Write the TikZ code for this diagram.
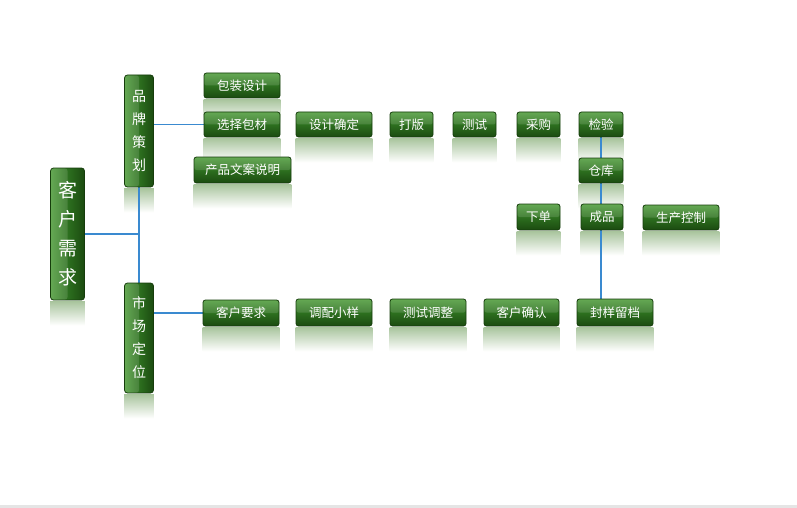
\documentclass[tikz,border=0pt]{standalone}
\usepackage{fontspec}
\newfontfamily\cjk{Noto Sans CJK SC}
\usetikzlibrary{backgrounds}
\definecolor{gtop}{HTML}{4E9C3A}
\definecolor{gmid}{HTML}{2D701F}
\definecolor{gbot}{HTML}{1B4A10}
\definecolor{gedge}{HTML}{163D0C}
\definecolor{refl}{HTML}{ABC6A0}
\definecolor{linkblue}{HTML}{3A8AD0}
\tikzset{
  x=1pt, y=-1pt,
  gbox/.style={draw=gedge, line width=0.8pt, rounded corners=2.5pt,
    top color=gtop, bottom color=gbot, middle color=gmid,
    text=white, inner sep=0pt, minimum height=25pt,
    font=\cjk\fontsize{12.5}{14}\selectfont,
    path picture={\fill[white,opacity=0.13] (path picture bounding box.north west) rectangle (path picture bounding box.east);}},
  vbox/.style={draw=gedge, line width=0.8pt, rounded corners=3pt,
    left color=gtop, right color=gbot, middle color=gmid,
    text=white, inner sep=0pt, align=center,
    path picture={\fill[white,opacity=0.13] (path picture bounding box.north west) rectangle (path picture bounding box.south);}},
  connector/.style={draw=linkblue, color=linkblue, line width=1.6pt},
  reflshade/.style={top color=refl, bottom color=white}
}
\begin{document}
\begin{tikzpicture}
\useasboundingbox (0,0) rectangle (797,508);
\fill[black!10] (0,505) rectangle (797,508);
% vertical boxes
\node[vbox, minimum width=34pt, minimum height=132pt, font=\cjk\fontsize{19}{29}\selectfont] (kh) at (67.5,234) {客\\户\\需\\求};
\node[vbox, minimum width=29pt, minimum height=112pt, font=\cjk\fontsize{14}{23}\selectfont] (pp) at (139,131) {品\\牌\\策\\划};
\node[vbox, minimum width=29pt, minimum height=110pt, font=\cjk\fontsize{14}{23}\selectfont] (sc) at (139,338) {市\\场\\定\\位};
% top branch
\node[gbox, minimum width=76pt] (bz) at (242,85.5) {包装设计};
\node[gbox, minimum width=76pt] (xz) at (242,124.5) {选择包材};
\node[gbox, minimum width=97pt, minimum height=26pt] (cp) at (242.5,170) {产品文案说明};
\node[gbox, minimum width=76pt] (sj) at (334,124.5) {设计确定};
\node[gbox, minimum width=43pt] (db) at (411.5,124.5) {打版};
\node[gbox, minimum width=43pt] (cs) at (474.5,124.5) {测试};
\node[gbox, minimum width=43pt] (cg) at (538.5,124.5) {采购};
\node[gbox, minimum width=44pt] (jy) at (601,124.5) {检验};
\node[gbox, minimum width=44pt] (ck) at (601,170.5) {仓库};
\node[gbox, minimum width=43pt, minimum height=26pt] (xd) at (538.5,217) {下单};
\node[gbox, minimum width=42pt, minimum height=26pt] (cpn) at (602,217) {成品};
\node[gbox, minimum width=76pt] (sk) at (681,217.5) {生产控制};
% bottom branch
\node[gbox, minimum width=76pt, minimum height=26pt] (kyq) at (241,313) {客户要求};
\node[gbox, minimum width=76pt, minimum height=27pt] (tp) at (334,312.5) {调配小样};
\node[gbox, minimum width=76pt, minimum height=27pt] (tz) at (428,312.5) {测试调整};
\node[gbox, minimum width=75pt, minimum height=27pt] (qr) at (521.5,312.5) {客户确认};
\node[gbox, minimum width=76pt, minimum height=27pt] (fy) at (615,312.5) {封样留档};
\begin{scope}[on background layer]
  \foreach \n in {kh,pp,sc,bz,xz,cp,sj,db,cs,cg,jy,ck,xd,cpn,sk,kyq,tp,tz,qr,fy}
    \shade[reflshade] ([yshift=-1.5pt]\n.south west) rectangle ([yshift=-25pt]\n.south east);
\end{scope}
\begin{scope}[on background layer]
  \draw[connector] (pp.south) -- (sc.north);
  \draw[connector] (kh.east) -- (kh.east -| pp.south);
  \draw[connector] (xz.west -| pp.east) -- (xz.west);
  \draw[connector] (kyq.west -| sc.east) -- (kyq.west);
  \draw[connector] (jy.south) -- (jy.south |- fy.north);
\end{scope}
\end{tikzpicture}
\end{document}
